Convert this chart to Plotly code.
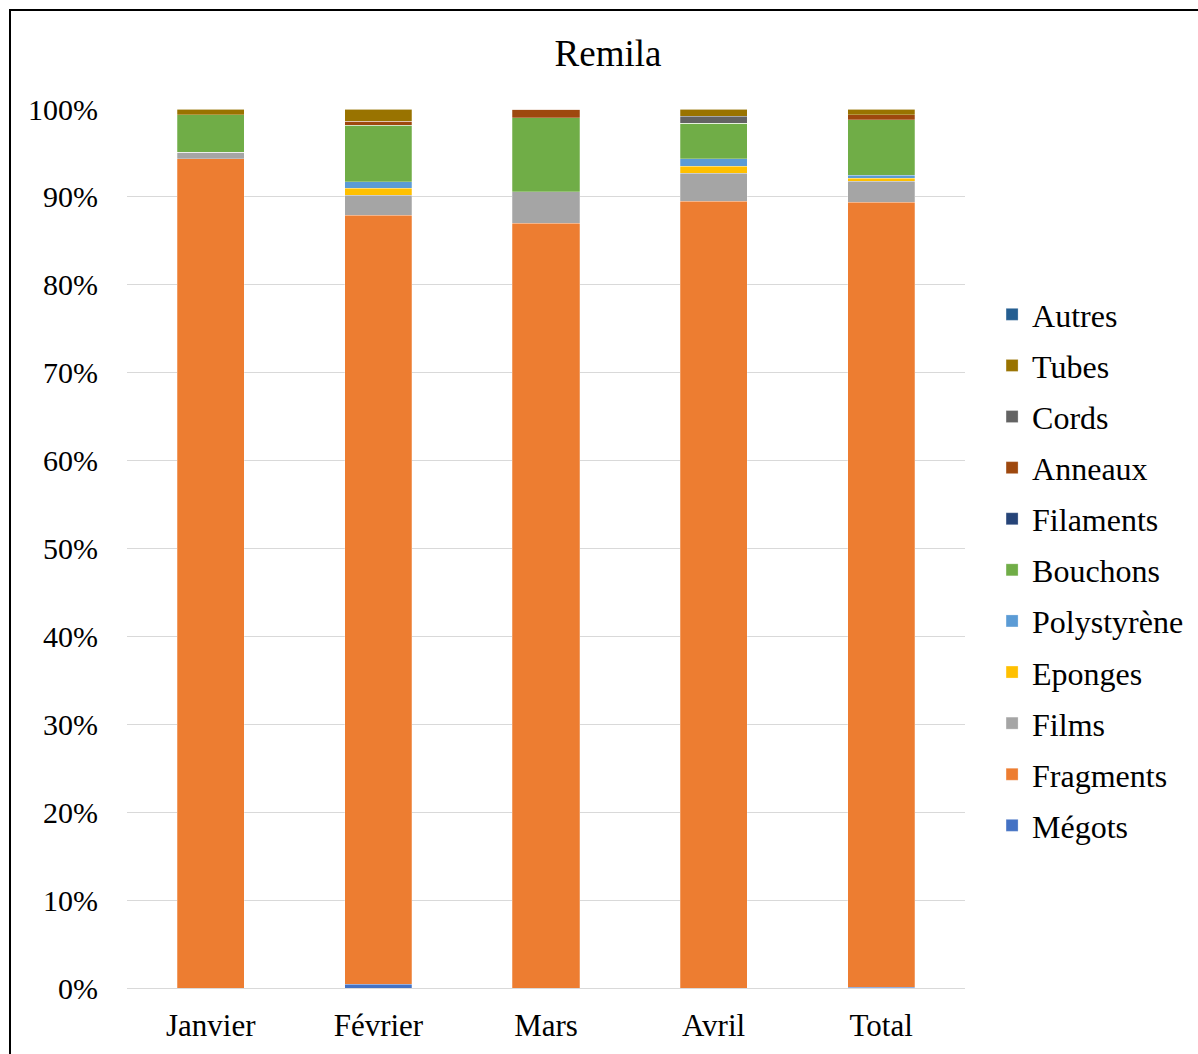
import plotly.graph_objects as go

categories = ["Janvier", "Février", "Mars", "Avril", "Total"]

# share of each litter type per month (percent of total items)
megots      = [0.0, 0.40, 0.0, 0.0, 0.10]
fragments   = [94.35, 87.50, 87.00, 89.53, 89.29]
films       = [0.73, 2.28, 3.56, 3.15, 2.39]
eponges     = [0.0, 0.80, 0.0, 0.83, 0.34]
polystyrene = [0.0, 0.72, 0.0, 0.83, 0.34]
bouchons    = [4.24, 6.45, 8.45, 4.06, 6.29]
filaments   = [0.0, 0.0, 0.0, 0.0, 0.0]
anneaux     = [0.0, 0.45, 0.99, 0.0, 0.57]
cords       = [0.0, 0.0, 0.0, 0.80, 0.0]
tubes       = [0.68, 1.40, 0.0, 0.80, 0.68]
autres      = [0.0, 0.0, 0.0, 0.0, 0.0]

series = [
    ("Mégots", megots, "#4472C4"),
    ("Fragments", fragments, "#ED7D31"),
    ("Films", films, "#A5A5A5"),
    ("Eponges", eponges, "#FFC000"),
    ("Polystyrène", polystyrene, "#5B9BD5"),
    ("Bouchons", bouchons, "#70AD47"),
    ("Filaments", filaments, "#264478"),
    ("Anneaux", anneaux, "#9E480E"),
    ("Cords", cords, "#636363"),
    ("Tubes", tubes, "#997300"),
    ("Autres", autres, "#255E91"),
]

font_family = "Liberation Serif, Times New Roman, serif"

fig = go.Figure()
for i, (name, vals, color) in enumerate(series):
    fig.add_trace(go.Bar(
        x=categories, y=[v / 100 for v in vals], name=name,
        legendgroup=name, legendrank=1000 - i,  # top of stack listed first
        marker=dict(color=color, line=dict(color="rgba(255,255,255,0.5)", width=0.5)),
    ))

fig.update_layout(
    width=1198, height=1054,
    barmode="stack", bargap=0.6,
    paper_bgcolor="white", plot_bgcolor="white",
    margin=dict(l=127, r=233, t=109, b=66, autoexpand=False),
    font=dict(family=font_family, color="black", size=30),
    title=dict(text="Remila", x=608 / 1198, xanchor="center",
               y=1 - 53 / 1054, yanchor="middle",
               font=dict(size=37, family=font_family, color="black")),
    legend=dict(x=1.0323, xanchor="left", y=0.4755, yanchor="middle",
                traceorder="grouped", tracegroupgap=6.5,
                itemwidth=30,
                font=dict(size=32, family=font_family, color="black"),
                bgcolor="rgba(0,0,0,0)"),
    showlegend=True,
)

fig.update_xaxes(showline=True, linecolor="#d9d9d9", linewidth=1,
                 ticks="", tickfont=dict(size=31), ticklabelstandoff=10)
fig.update_yaxes(range=[0, 1], tickformat=".0%", dtick=0.1,
                 showgrid=True, gridcolor="#d9d9d9", gridwidth=1,
                 zeroline=False, showline=False, ticks="",
                 tickfont=dict(size=30), ticklabelstandoff=28)

# outer chart frame
fig.add_shape(type="rect", xref="paper", yref="paper",
              x0=(10 - 127) / 838, x1=(1199 - 127) / 838,
              y0=(988 - 1056) / 879, y1=(988 - 10) / 879,
              line=dict(color="black", width=2), fillcolor="rgba(0,0,0,0)",
              layer="below")

fig.write_html("out.html")
